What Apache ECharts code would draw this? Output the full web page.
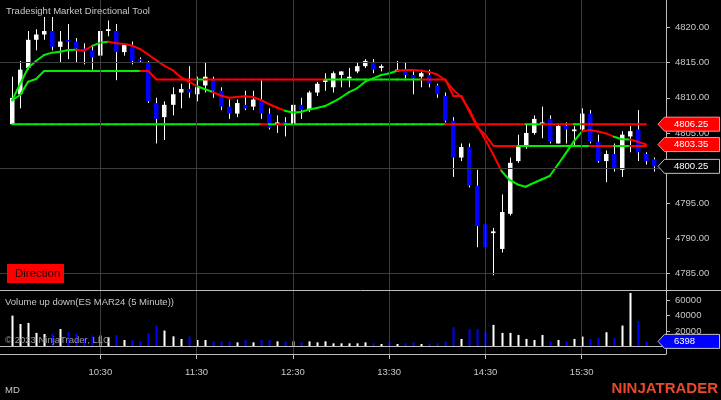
<!DOCTYPE html>
<html><head><meta charset="utf-8">
<script src="https://cdn.jsdelivr.net/npm/echarts@6/dist/echarts.min.js"></script>
<style>html,body{margin:0;padding:0;background:#000}#c{width:721px;height:400px}</style>
</head><body><div id="c"></div>
<script>
// ---------- data ----------
const barTimes = ['9:35','9:40','9:45','9:50','9:55',
 '10:00','10:05','10:10','10:15','10:20','10:25','10:30','10:35','10:40','10:45','10:50','10:55',
 '11:00','11:05','11:10','11:15','11:20','11:25','11:30','11:35','11:40','11:45','11:50','11:55',
 '12:00','12:05','12:10','12:15','12:20','12:25','12:30','12:35','12:40','12:45','12:50','12:55',
 '13:00','13:05','13:10','13:15','13:20','13:25','13:30','13:35','13:40','13:45','13:50','13:55',
 '14:00','14:05','14:10','14:15','14:20','14:25','14:30','14:35','14:40','14:45','14:50','14:55',
 '15:00','15:05','15:10','15:15','15:20','15:25','15:30','15:35','15:40','15:45','15:50','15:55',
 '16:00','16:05','16:10','16:15'];
const timeTicks = ['10:30','11:30','12:30','13:30','14:30','15:30'];
const priceTicks = [4785,4790,4795,4800,4805,4810,4815,4820];
const priceGrid = [4785,4800,4815];
const volTicks = [0,20000,40000,60000];

const open = [4806.25,4810.5,4814.25,4818.25,4819.0,4819.5,4817.25,4818.25,4818.0,4817.0,
 4816.75,4816.0,4819.5,4819.5,4816.5,4817.25,4815.5,4815.0,4809.25,4807.25,
 4809.0,4810.75,4811.25,4810.5,4811.75,4812.5,4811.0,4808.75,4807.75,4809.0,
 4808.75,4809.75,4807.75,4806.25,4806.5,4806.25,4809.0,4808.25,4810.75,4812.25,
 4811.5,4813.25,4812.75,4813.75,4814.5,4815.0,4814.25,4813.75,4813.75,4814.0,
 4813.25,4813.0,4813.25,4811.75,4810.25,4806.75,4801.5,4803.0,4797.5,4792.0,
 4790.75,4788.5,4793.5,4801.0,4803.0,4805.0,4806.25,4807.0,4803.5,4806.0,
 4805.25,4805.5,4807.75,4803.75,4801.0,4802.0,4799.75,4804.5,4805.5,4802.0,
 4801.25];
const close = [4810.0,4814.0,4818.25,4819.0,4819.5,4817.25,4818.0,4818.0,4817.0,4816.5,
 4815.75,4819.5,4819.75,4816.5,4817.5,4815.25,4815.25,4809.5,4807.0,4809.0,
 4810.5,4811.25,4810.75,4811.5,4813.0,4811.0,4808.75,4807.75,4809.25,4808.5,
 4809.75,4807.75,4805.75,4806.5,4806.0,4809.0,4808.25,4810.75,4812.0,4812.5,
 4813.5,4813.75,4813.0,4814.5,4815.25,4814.0,4814.5,4813.5,4814.0,4813.25,
 4812.75,4813.5,4812.0,4810.5,4806.75,4801.5,4803.0,4797.5,4791.75,4788.75,
 4791.0,4793.75,4800.75,4803.0,4805.0,4807.0,4806.5,4803.75,4806.0,4805.5,
 4805.5,4807.75,4803.75,4801.0,4802.0,4800.0,4804.75,4805.25,4802.25,4801.0,
 4800.25];
const low = [4806.25,4808.5,4814.0,4816.75,4818.25,4816.75,4815.0,4815.5,4815.0,4814.75,
 4814.0,4814.0,4818.75,4812.5,4816.0,4814.75,4815.0,4809.25,4803.5,4804.0,
 4807.5,4808.5,4810.0,4809.5,4810.75,4810.0,4808.25,4807.0,4807.25,4808.25,
 4808.25,4807.0,4805.5,4805.0,4804.5,4805.5,4807.0,4808.0,4810.25,4811.0,
 4810.75,4811.5,4811.5,4813.5,4814.25,4813.5,4813.75,4813.25,4813.75,4812.75,
 4810.5,4811.5,4811.5,4810.0,4806.5,4798.75,4801.0,4797.25,4788.75,4787.5,
 4784.75,4788.0,4793.25,4800.75,4802.75,4804.75,4804.25,4803.5,4803.5,4803.5,
 4803.0,4805.25,4803.5,4800.75,4798.0,4799.5,4798.75,4802.25,4801.0,4800.5,
 4799.5];
const high = [4813.0,4815.25,4819.5,4819.75,4821.5,4821.5,4819.5,4820.5,4818.5,4817.75,
 4817.5,4820.25,4821.0,4820.5,4817.75,4818.0,4815.75,4815.25,4810.0,4809.5,
 4811.5,4812.0,4814.5,4813.0,4815.0,4813.0,4811.5,4809.75,4809.75,4811.0,
 4811.0,4812.5,4808.5,4807.5,4807.25,4810.0,4810.0,4811.0,4812.25,4813.5,
 4813.75,4813.75,4814.25,4815.0,4815.5,4815.5,4814.75,4815.25,4815.25,4815.0,
 4813.75,4814.0,4814.0,4812.0,4810.75,4807.25,4803.5,4803.5,4799.75,4793.0,
 4791.5,4796.25,4801.5,4804.75,4806.25,4807.5,4808.75,4807.5,4806.25,4806.5,
 4806.0,4808.5,4808.25,4804.75,4802.5,4803.5,4805.25,4806.0,4808.25,4802.25,
 4801.5];
const volume = [40000,29000,30500,17500,16000,16000,22500,19000,16000,10500,
 14000,14000,11800,14800,8300,8300,6500,17000,27000,20500,
 13000,9600,12700,8300,8300,6500,6500,6500,5200,8300,
 5200,8300,8300,6500,6500,6500,5200,6500,5200,6500,
 3900,3900,3900,3900,5200,3900,3000,5200,3000,3900,
 5200,3000,3000,3900,6500,24900,9600,22700,22700,19600,
 27900,17500,17500,14800,9600,8300,14800,6500,8300,6500,
 9600,12700,9600,10900,18300,10900,27000,69400,32700,6398];
const trendLine = [4809.62,4811.96,4814.24,4815.23,4816.09,4816.42,4816.56,4816.80,4816.85,4816.70,
 4817.38,4817.84,4817.98,4817.75,4817.65,4817.41,4816.90,4816.13,4815.32,4814.55,
 4813.95,4812.96,4812.29,4811.68,4811.25,4810.83,4810.33,4810.00,4810.11,4810.21,
 4810.11,4809.69,4809.12,4808.62,4808.17,4807.91,4807.98,4808.34,4808.55,4808.83,
 4809.40,4810.04,4810.80,4811.35,4812.29,4812.77,4813.24,4813.45,4813.85,4813.95,
 4813.95,4813.84,4813.67,4813.31,4812.53,4811.11,4810.11,4808.26,4805.99,4804.00,
 4801.86,4799.59,4798.31,4797.67,4797.35,4797.88,4798.38,4798.88,4800.44,4802.10,
 4803.76,4805.20,4805.42,4805.20,4804.95,4804.47,4804.10,4804.07,4803.76,4803.35];
const stopLine = [4809.62,4810.40,4812.29,4812.67,4813.80,4813.80,4813.80,4813.80,4813.80,4813.80,
 4813.80,4813.80,4813.80,4813.80,4813.80,4813.80,4813.80,4813.80,4812.60,4812.60,
 4812.60,4812.60,4812.60,4812.60,4812.60,4812.60,4812.60,4812.60,4812.60,4812.60,
 4812.60,4812.60,4812.60,4812.60,4812.60,4812.60,4812.60,4812.60,4812.60,4812.60,
 4812.60,4812.60,4812.60,4812.60,4812.60,4812.60,4812.60,4812.60,4812.60,4812.60,
 4812.60,4812.60,4812.60,4812.60,4812.60,4810.25,4810.25,4808.00,4805.80,4804.70,
 4803.15,4803.15,4803.15,4803.15,4803.15,4803.15,4803.15,4803.15,4803.15,4803.15,
 4803.15,4803.15,4803.15,4803.15,4803.15,4803.15,4803.15,4803.15,4803.15,4803.15];
const rangeLevel = 4806.25;
const rangeLine = trendLine.map(() => rangeLevel);

// ---------- styles ----------
const FONT = '"Liberation Sans", Arial, sans-serif';
const GREEN = '#00ee00', RED = '#ff0000', BLUE = '#0000ff', WHITE = '#ffffff';
const TXT = '#c8c8c8', GRIDC = '#3c3c3c', BORDER = '#bdbdbd';
const cats = ['9:30'].concat(barTimes, ['16:20']);

const candleData = open.map((o, i) => [i + 1, o, close[i], low[i], high[i]]);
function segData(line) {
  const d = [];
  for (let i = 1; i < line.length; i++) d.push([i + 1, line[i - 1], line[i], close[i] >= line[i] ? 1 : 0]);
  return d;
}
const volData = volume.map((v, i) => [i + 1, v, close[i] >= open[i] ? 1 : 0]);

function candleItem(params, api) {
  const x = api.value(0);
  const o = api.value(1), c = api.value(2), l = api.value(3), h = api.value(4);
  const pl = api.coord([x, l]), ph = api.coord([x, h]), po = api.coord([x, o]), pc = api.coord([x, c]);
  const n = Math.round(pl[0]);
  const top = Math.min(po[1], pc[1]), bot = Math.max(po[1], pc[1]);
  return { type: 'group', children: [
    { type: 'line', shape: { x1: n + 0.5, y1: ph[1], x2: n + 0.5, y2: pl[1] }, style: { stroke: WHITE, lineWidth: 1 } },
    { type: 'rect', shape: { x: n - 2, y: top, width: 4.5, height: Math.max(1, bot - top) }, style: { fill: c >= o ? WHITE : BLUE } }
  ] };
}
function volItem(params, api) {
  const x = api.value(0);
  const p0 = api.coord([x, 0]), p1 = api.coord([x, api.value(1)]);
  const n = Math.round(p0[0]);
  return { type: 'rect', shape: { x: n - 0.5, y: p1[1], width: 2, height: p0[1] - p1[1] },
    style: { fill: api.value(2) ? WHITE : BLUE } };
}
function segItem(params, api) {
  const p0 = api.coord([api.value(0) - 1, api.value(1)]);
  const p1 = api.coord([api.value(0), api.value(2)]);
  return { type: 'line', shape: { x1: p0[0], y1: p0[1], x2: p1[0], y2: p1[1] },
    style: { stroke: api.value(3) ? GREEN : RED, lineWidth: 2, lineCap: 'round' } };
}
function segSeries(line) {
  return { type: 'custom', xAxisIndex: 0, yAxisIndex: 0, z: 4, clip: true, renderItem: segItem,
    data: segData(line), encode: { x: 0, y: [1, 2] } };
}
const showTime = (i, v) => timeTicks.indexOf(v) >= 0;

const option = {
  backgroundColor: '#000',
  animation: false,
  grid: [
    { left: 0, right: 55, top: 0, height: 291 },
    { left: 0, right: 55, top: 291, height: 63 }
  ],
  xAxis: [
    { type: 'category', gridIndex: 0, data: cats, boundaryGap: true, show: false },
    { type: 'category', gridIndex: 1, data: cats, boundaryGap: true,
      axisLine: { show: true, onZero: false, lineStyle: { color: BORDER } },
      axisTick: { show: true, alignWithLabel: true, length: 5, interval: showTime, lineStyle: { color: BORDER } },
      axisLabel: { interval: showTime, color: TXT, fontSize: 9.5, fontFamily: FONT, margin: 13 },
      splitLine: { show: false } }
  ],
  yAxis: [
    { type: 'value', gridIndex: 0, position: 'right', min: 4782.52, max: 4823.91, scale: true,
      axisLine: { show: true, onZero: false, lineStyle: { color: BORDER } },
      axisTick: { show: true, length: 4, customValues: priceTicks, lineStyle: { color: BORDER } },
      axisLabel: { customValues: priceTicks, formatter: v => Number(v).toFixed(2), color: TXT, fontSize: 9.5, fontFamily: FONT, margin: 9 },
      splitLine: { show: false } },
    { type: 'value', gridIndex: 1, position: 'right', min: -10000, max: 72000,
      axisLine: { show: true, onZero: false, lineStyle: { color: BORDER } },
      axisTick: { show: true, length: 4, customValues: volTicks, lineStyle: { color: BORDER } },
      axisLabel: { customValues: volTicks, formatter: v => String(v), color: TXT, fontSize: 9.5, fontFamily: FONT, margin: 9 },
      splitLine: { show: false } }
  ],
  series: [
    { type: 'line', xAxisIndex: 0, yAxisIndex: 0, data: [], z: 1, silent: true,
      markLine: { silent: true, symbol: 'none', label: { show: false }, animation: false,
        lineStyle: { color: GRIDC, width: 1, type: 'solid' },
        data: timeTicks.map(t => ({ xAxis: t })).concat(priceGrid.map(p => ({ yAxis: p }))) } },
    { type: 'custom', xAxisIndex: 0, yAxisIndex: 0, z: 3, clip: true, renderItem: candleItem,
      data: candleData, encode: { x: 0, y: [1, 2, 3, 4] } },
    segSeries(rangeLine),
    segSeries(stopLine),
    segSeries(trendLine),
    { type: 'line', xAxisIndex: 1, yAxisIndex: 1, data: [], z: 1, silent: true,
      markLine: { silent: true, symbol: 'none', label: { show: false }, animation: false,
        lineStyle: { color: GRIDC, width: 1, type: 'solid' },
        data: timeTicks.map(t => ({ xAxis: t })).concat([{ yAxis: 0, lineStyle: { color: BORDER } }]) } },
    { type: 'custom', xAxisIndex: 1, yAxisIndex: 1, z: 3, clip: true, renderItem: volItem,
      data: volData, encode: { x: 0, y: 1 } }
  ]
};

const chart = echarts.init(document.getElementById('c'), null, { renderer: 'canvas' });
chart.setOption(option);

function tag(cy, text, fill, stroke) {
  return [
    { type: 'polygon', z: 100, shape: { points: [[658, cy], [664.5, cy - 7], [719.5, cy - 7], [719.5, cy + 7], [664.5, cy + 7]] },
      style: { fill: fill, stroke: stroke, lineWidth: 1 } },
    { type: 'text', z: 101, x: 674, y: cy, style: { text: text, fill: '#ffffff', fontSize: 9.5, fontFamily: FONT, textVerticalAlign: 'middle' } }
  ];
}
function label(x, y, text, color, size, extra) {
  return Object.assign({ type: 'text', z: 100, x: x, y: y,
    style: Object.assign({ text: text, fill: color, fontSize: size, fontFamily: FONT, textVerticalAlign: 'middle' }, extra || {}) });
}
const yP = v => chart.convertToPixel({ yAxisIndex: 0 }, v);
const yV = v => chart.convertToPixel({ yAxisIndex: 1 }, v);
const lastClose = close[close.length - 1];
const lastTrend = trendLine[trendLine.length - 1];
const lastVol = volume[volume.length - 1];

const elements = [
  { type: 'line', z: 50, shape: { x1: 0, y1: 290.5, x2: 721, y2: 290.5 }, style: { stroke: BORDER, lineWidth: 1 } },
  label(6, 11, 'Tradesight Market Directional Tool', TXT, 9.5),
  label(5, 302, 'Volume up down(ES MAR24 (5 Minute))', TXT, 9.5),
  label(5, 340.5, '\u00a9 2023 NinjaTrader, LLC', '#9a9a9a', 9.5),
  label(5, 390, 'MD', TXT, 9.5),
  label(718, 389, 'NINJATRADER', '#e8492c', 15, { fontWeight: 'bold', textAlign: 'right' }),
  { type: 'rect', z: 100, shape: { x: 7, y: 264, width: 57, height: 19 }, style: { fill: '#ff0000' } },
  label(15, 273.5, 'Direction', '#2a0000', 11.5)
]
  .concat(tag(yP(rangeLevel), rangeLevel.toFixed(2), '#ff0000', '#ff9090'))
  .concat(tag(yP(lastTrend), lastTrend.toFixed(2), '#ff0000', '#ff9090'))
  .concat(tag(yP(lastClose), lastClose.toFixed(2), '#000000', '#c0c0c0'))
  .concat(tag(yV(lastVol), String(lastVol), '#0000ff', '#c0c0c0'));
chart.setOption({ graphic: { elements: elements } });
</script>
</body></html>
